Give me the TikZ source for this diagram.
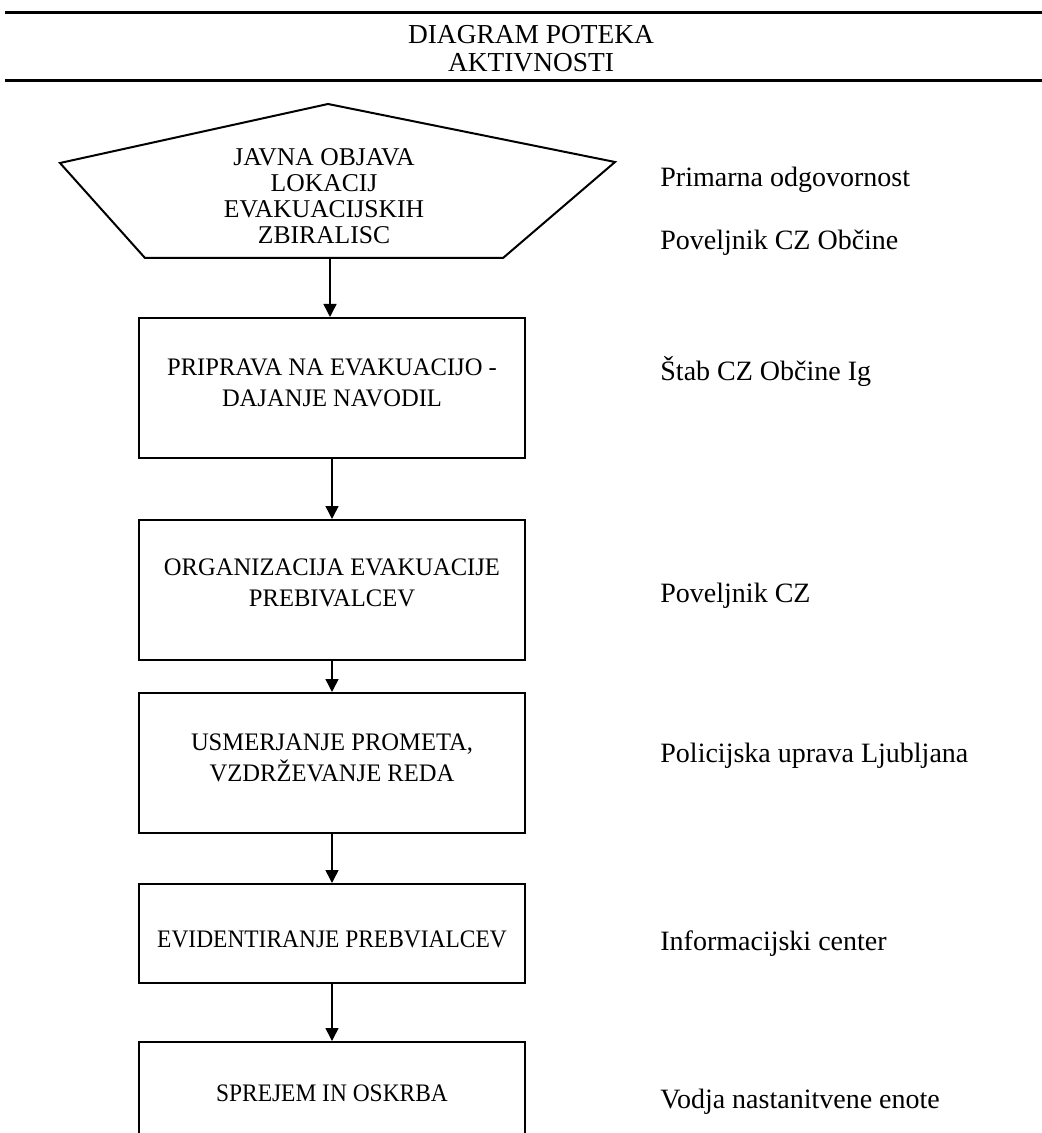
\documentclass[tikz,border=0pt]{standalone}
\usepackage{fontspec}
\setmainfont{Liberation Serif}
\newfontfamily\boxfont[FakeStretch=0.975]{Liberation Serif}
\newfontfamily\tightfont[FakeStretch=0.93]{Liberation Serif}
\usetikzlibrary{arrows.meta}
\begin{document}
\begin{tikzpicture}[x=0.5pt,y=-0.5pt,
  box/.style={draw, line width=1pt, minimum width=193pt, inner sep=0pt},
  txt/.style={align=center, font=\boxfont\fontsize{12.6}{15.5}\selectfont, inner sep=0pt},
  lbl/.style={anchor=base west, font=\fontsize{14}{17}\selectfont, inner sep=0pt},
  arr/.style={line width=0.75pt, -{Triangle[width=6.5pt,length=6.5pt]}},
  rulebar/.style={line width=1.5pt}]
\useasboundingbox (0,0) rectangle (1042,1133);
\clip (0,0) rectangle (1042,1133);
% header
\draw[rulebar] (5,13) -- (1042,13);
\draw[rulebar] (5,81) -- (1042,81);
\node[align=center, font=\fontsize{13.7}{14}\selectfont, inner sep=0pt] (title) at (531,49)
  {DIAGRAM POTEKA\\AKTIVNOSTI};
% pentagon
\draw[line width=1pt, line join=miter] (60,163) -- (328,104) -- (615,162) -- (503,258) -- (145,258) -- cycle;
\node[align=center, font=\fontsize{12.8}{13}\selectfont, inner sep=0pt] (pent) at (324,196)
  {JAVNA OBJAVA\\LOKACIJ\\EVAKUACIJSKIH\\ZBIRALISC};
\coordinate (pb) at (330,258);
% boxes
\node[box, minimum height=70pt] (b1) at (332,388) {};
\node[box, minimum height=70pt] (b2) at (332,590) {};
\node[box, minimum height=70pt] (b3) at (332,763) {};
\node[box, minimum height=49.5pt] (b4) at (332,933.5) {};
\node[box, minimum height=51pt] (b5) at (332,1093) {};
\node[txt] (t1) at ([yshift=2.8pt]b1.center) {PRIPRAVA NA EVAKUACIJO -\\DAJANJE NAVODIL};
\node[txt] (t2) at ([yshift=3.5pt]b2.center) {ORGANIZACIJA EVAKUACIJE\\PREBIVALCEV};
\node[txt] (t3) at ([yshift=2.5pt]b3.center) {USMERJANJE PROMETA,\\VZDRŽEVANJE REDA};
\node[txt, font=\tightfont\fontsize{12.6}{15.5}\selectfont] (t4) at ([yshift=-3pt]b4.center) {EVIDENTIRANJE PREBVIALCEV};
\node[txt, font=\tightfont\fontsize{12.6}{15.5}\selectfont] (t5) at (b5.center) {SPREJEM IN OSKRBA};
% arrows
\draw[arr] (pb) -- (pb |- b1.north);
\draw[arr] (b1.south) -- (b2.north);
\draw[arr] (b2.south) -- (b3.north);
\draw[arr] (b3.south) -- (b4.north);
\draw[arr] (b4.south) -- (b5.north);
% responsibilities
\node[lbl] (r0) at (660,187) {Primarna odgovornost};
\node[lbl] (r1) at (660,250) {Poveljnik CZ Občine};
\node[lbl] (r2) at (660,380) {Štab CZ Občine Ig};
\node[lbl] (r3) at (660,602) {Poveljnik CZ};
\node[lbl] (r4) at (660,762) {Policijska uprava Ljubljana};
\node[lbl] (r5) at (660,950) {Informacijski center};
\node[lbl] (r6) at (660,1108) {Vodja nastanitvene enote};
\end{tikzpicture}
\end{document}
